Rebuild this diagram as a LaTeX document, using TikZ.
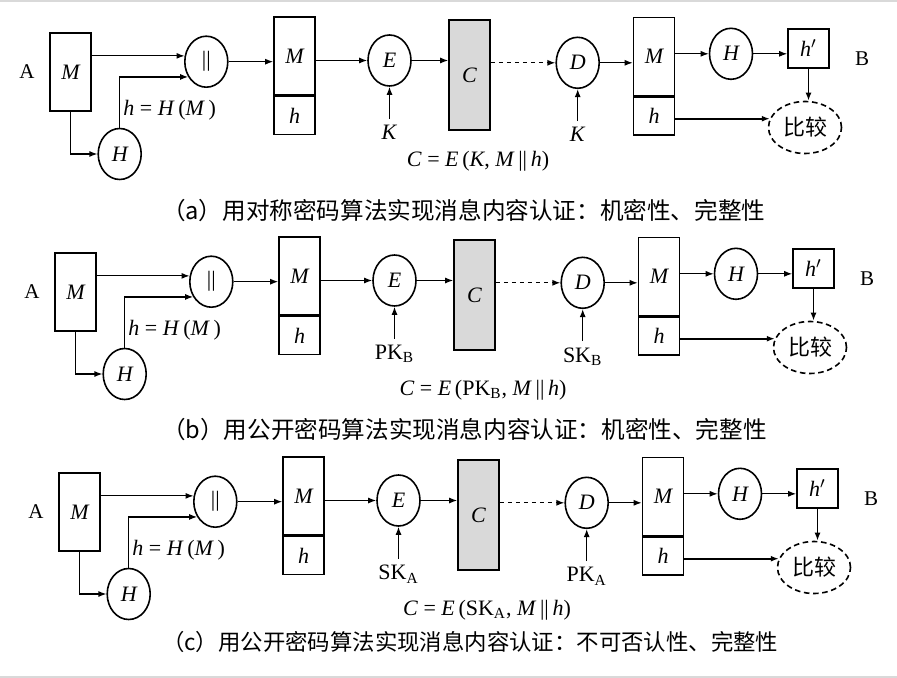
\documentclass[tikz,border=0pt]{standalone}
\usepackage{fontspec}
\setmainfont{Liberation Serif}
\newfontfamily\cjk{Noto Sans CJK SC}
\usetikzlibrary{shapes.geometric, arrows.meta, positioning}

\begin{document}
\begin{tikzpicture}[
        x=0.5pt, y=-0.5pt,
        font=\fontsize{10}{12}\selectfont,
        blk/.style={rectangle, draw, line width=0.8pt, minimum width=20.5pt, inner sep=0pt, font=\fontsize{11}{13}\selectfont\itshape},
        tall/.style={blk, minimum height=39pt},
        low/.style={blk, minimum height=19pt},
        cipher/.style={blk, fill=gray!30, minimum height=55pt},
        op/.style={ellipse, draw, line width=0.8pt, minimum width=21.5pt, minimum height=25.5pt, inner sep=0pt, font=\fontsize{11}{13}\selectfont\itshape},
        cmpnode/.style={ellipse, draw, dash pattern=on 2.8pt off 1.8pt, line width=0.8pt, minimum width=36.5pt, minimum height=26pt, inner sep=0pt, font=\fontsize{11}{13}\selectfont\cjk},
        party/.style={font=\fontsize{10.5}{12}\selectfont},
        keyl/.style={inner sep=3pt, font=\fontsize{11}{13}\selectfont},
        arrow/.style={-{Latex[length=4pt,width=3pt]}, line width=0.6pt}
    ]
    \useasboundingbox (0,0) rectangle (897,678);
    % page rules
    \fill[gray!30] (0,0) rectangle (897,2.5);
    \fill[gray!30] (0,675.5) rectangle (897,678);

    \foreach \p/\dx/\dy/\ke/\kd/\fm/\fy/\cy/\cap in {
        a/0/0/{\textit{K}}/{\textit{K}}/{\textit{K}}/167/211/{（a）用对称密码算法实现消息内容认证：机密性、完整性},
        b/5/220/{PK\textsubscript{B}}/{SK\textsubscript{B}}/{PK\textsubscript{B}}/175/210/{（b）用公开密码算法实现消息内容认证：机密性、完整性},
        c/9/440/{SK\textsubscript{A}}/{PK\textsubscript{A}}/{SK\textsubscript{A}}/175/202/{\fontsize{11.2}{14}\selectfont（c）用公开密码算法实现消息内容认证：不可否认性、完整性}}{
    \begin{scope}[shift={(\dx,\dy)}]
        % sender A
        \node[party] (pA\p) at (27,72) {A};
        \node[tall] (mA\p) at (70.5,72) {M};
        \node[op] (hA\p) at (119.7,154) {H};
        \node[op, font=\fontsize{11}{13}\selectfont] (par\p) at (206.3,61.7) {\textbar\textbar};
        \node[anchor=west, inner sep=1pt, font=\fontsize{11}{13}\selectfont] (hl\p) at (121,110) {\textit{h} = \textit{H}\,(\textit{M}\,)};
        \node[tall] (mt\p) at (294.5,56) {M};
        \node[low, below=0pt of mt\p] (ht\p) {h};
        \node[op] (enc\p) at (389.5,60.5) {E};
        \node[keyl, below=16pt of enc\p] (ke\p) {\ke};
        \node[cipher] (cip\p) at (469.5,75) {C};
        \node[anchor=base, font=\fontsize{11}{13}\selectfont] (fm\p) at (478,\fy) {\textit{C} = \textit{E}\,(\fm, \textit{M}\,\textbar\textbar\,\textit{h})};
        % receiver B
        \node[op] (dec\p) at (577.7,62.8) {D};
        \node[keyl, below=16pt of dec\p] (kd\p) {\kd};
        \node[tall] (mr\p) at (654,56.5) {M};
        \node[low, below=0pt of mr\p] (hr\p) {h};
        \node[op] (hb\p) at (731,53.8) {H};
        \node[blk, minimum height=19.5pt] (hp\p) at (808.5,48.5) {h$'$};
        \node[party] (pB\p) at (862,59) {B};
        \node[cmpnode] (cmp\p) at (805,127.5) {比较};
        \node[anchor=west, font=\fontsize{11.8}{14}\selectfont\cjk] (cap\p) at ({155-\dx},\cy) {\cap};

        \draw[arrow] (mA\p.east |- par\p.165) -- (par\p.165);
        \draw[arrow] (mA\p.south) |- (hA\p);
        \draw[arrow] (hA\p.north) |- (par\p.220);
        \draw[arrow] (par\p) -- (par\p -| mt\p.west);
        \draw[arrow] (mt\p.east |- enc\p) -- (enc\p);
        \draw[arrow] (ke\p) -- (enc\p);
        \draw[arrow] (enc\p) -- (enc\p -| cip\p.west);
        \draw[arrow, dash pattern=on 2pt off 2pt] (cip\p.east |- dec\p) -- (dec\p);
        \draw[arrow] (kd\p) -- (dec\p);
        \draw[arrow] (dec\p) -- (dec\p -| mr\p.west);
        \draw[arrow] (mr\p.east |- hb\p) -- (hb\p);
        \draw[arrow] (hb\p) -- (hb\p -| hp\p.west);
        \draw[arrow, line width=0.8pt] (hp\p.south) -- (hp\p.south |- cmp\p.north);
        \draw[arrow, line width=0.8pt] (hr\p.east |- cmp\p.166) -- (cmp\p.166);
    \end{scope}
    }
\end{tikzpicture}
\end{document}
